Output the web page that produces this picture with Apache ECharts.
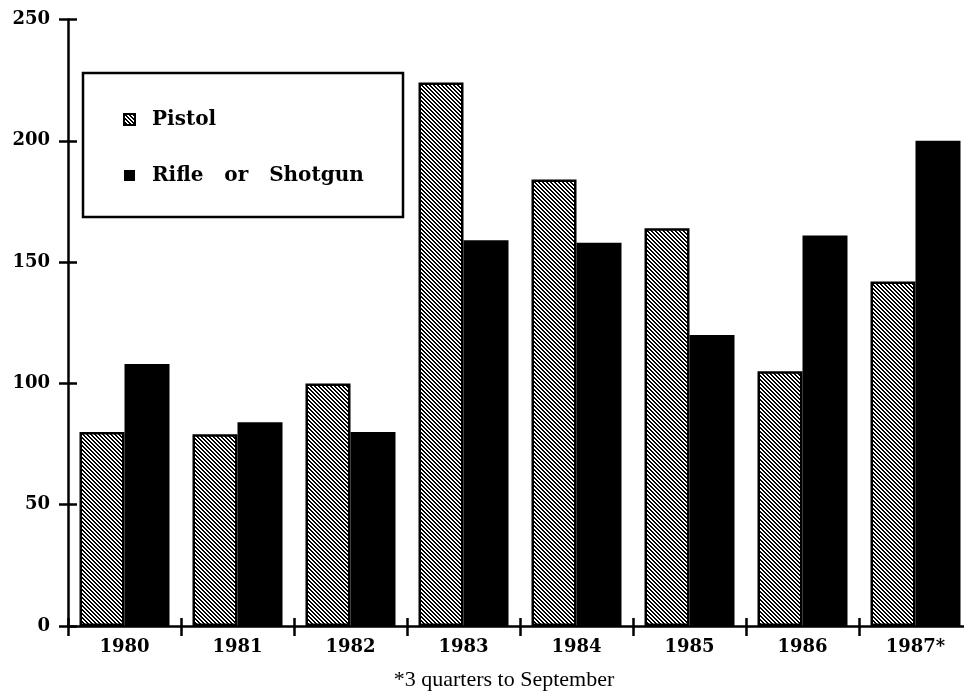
<!DOCTYPE html>
<html>
<head>
<meta charset="utf-8">
<script src="https://cdn.jsdelivr.net/npm/echarts@6/dist/echarts.min.js"></script>
<style>
html,body{margin:0;padding:0;background:#fff;}
#chart{width:964px;height:695px;}
</style>
</head>
<body>
<div id="chart"></div>
<script>
var years = ['1980', '1981', '1982', '1983', '1984', '1985', '1986', '1987*'];
var pistol = [80, 79, 100, 224, 184, 164, 105, 142];
var rifle = [108, 84, 80, 159, 158, 120, 161, 200];
var seriesNames = ['Pistol', 'Rifle or Shotgun'];
var footnote = '*3 quarters to September';

function hatch() {
  var c = document.createElement('canvas');
  c.width = 8; c.height = 8;
  var ctx = c.getContext('2d');
  var img = ctx.createImageData(8, 8);
  for (var y = 0; y < 8; y++) {
    for (var x = 0; x < 8; x++) {
      var k = (((x - y) % 4) + 4) % 4;
      var v = k < 2 ? 0 : 255;
      var i = (y * 8 + x) * 4;
      img.data[i] = v; img.data[i + 1] = v; img.data[i + 2] = v; img.data[i + 3] = 255;
    }
  }
  ctx.putImageData(img, 0, 0);
  return c;
}

var labelFont = { fontFamily: 'DejaVu Serif', fontWeight: 'bold', fontSize: 18, color: '#000' };
var chart = echarts.init(document.getElementById('chart'), null, { renderer: 'canvas' });
chart.setOption({
  animation: false,
  backgroundColor: '#fff',
  grid: { left: 68, width: 904, top: 19.5, bottom: 69, containLabel: false, outerBoundsMode: 'none' },
  legend: {
    orient: 'vertical',
    left: 118,
    top: 104,
    itemWidth: 35,
    itemHeight: 11,
    itemGap: 35,
    icon: 'path://M0,0H10V10H0Z',
    symbolKeepAspect: true,
    data: seriesNames,
    formatter: function (n) { return n.replace(/ /g, '   '); },
    textStyle: { fontFamily: 'DejaVu Serif', fontWeight: 'bold', fontSize: 20, color: '#000', lineHeight: 21 }
  },
  xAxis: [{
    type: 'category',
    data: years,
    axisLine: { lineStyle: { color: '#000', width: 2.5 } },
    axisTick: { show: true, length: 10, lineStyle: { color: '#000', width: 2.5 } },
    axisLabel: Object.assign({ margin: 12, interval: 0 }, labelFont),
    splitLine: { show: false }
  }, {
    type: 'category',
    data: years,
    position: 'bottom',
    axisLine: { show: false },
    axisTick: { show: true, inside: true, length: 8, lineStyle: { color: '#000', width: 2.5 } },
    axisLabel: { show: false },
    splitLine: { show: false }
  }],
  yAxis: [{
    type: 'value',
    min: 0, max: 250, interval: 50,
    axisLine: { show: true, lineStyle: { color: '#000', width: 2.5 } },
    axisTick: { show: true, length: 9, lineStyle: { color: '#000', width: 2.5 } },
    axisLabel: Object.assign({ margin: 18 }, labelFont),
    splitLine: { show: false }
  }, {
    type: 'value',
    position: 'left',
    min: 0, max: 250, interval: 50,
    axisLine: { show: false },
    axisTick: { show: true, inside: true, length: 9, lineStyle: { color: '#000', width: 2.5 } },
    axisLabel: { show: false },
    splitLine: { show: false }
  }],
  series: [{
    name: seriesNames[0],
    type: 'bar',
    data: pistol,
    barWidth: 45,
    barGap: '0%',
    itemStyle: { color: { image: hatch(), repeat: 'repeat' }, borderColor: '#000', borderWidth: 2.5 }
  }, {
    name: seriesNames[1],
    type: 'bar',
    data: rifle,
    barWidth: 45,
    barGap: '0%',
    itemStyle: { color: '#000', borderColor: '#000', borderWidth: 0 }
  }],
  graphic: [{
    type: 'rect',
    z: 0,
    shape: { x: 83, y: 73, width: 320, height: 144 },
    style: { fill: 'none', stroke: '#000', lineWidth: 2.5 }
  }, {
    type: 'text',
    x: 504, y: 680,
    style: { text: footnote, fontFamily: 'Liberation Serif', fontSize: 22, fill: '#000', textAlign: 'center', textVerticalAlign: 'middle' }
  }]
});
</script>
</body>
</html>
